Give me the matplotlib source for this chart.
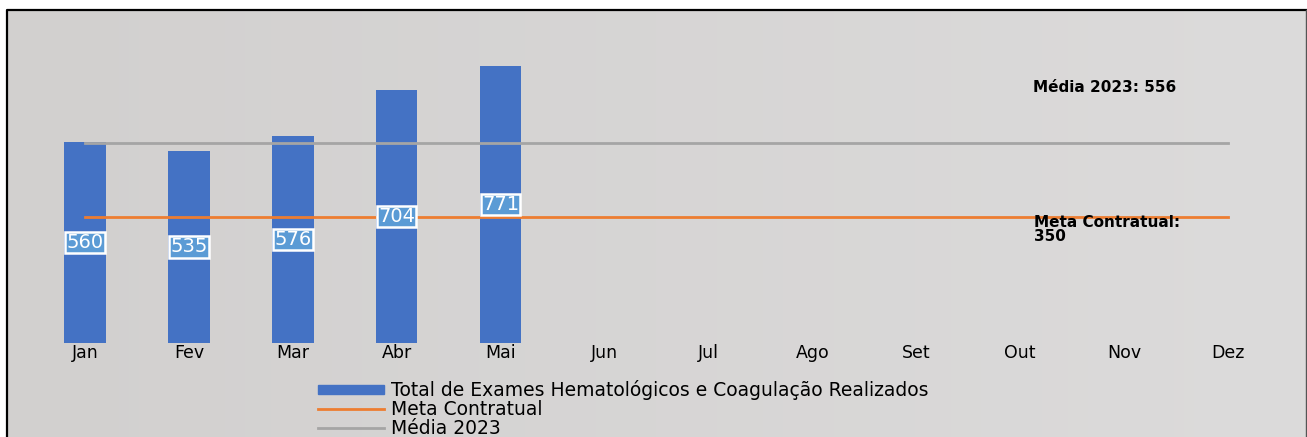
import matplotlib.pyplot as plt
import matplotlib.patches as mpatches
from matplotlib.lines import Line2D
import numpy as np

plt.rcParams['font.family'] = ['DejaVu Sans']

meses = ["Jan", "Fev", "Mar", "Abr", "Mai", "Jun", "Jul", "Ago", "Set", "Out", "Nov", "Dez"]
exames = [560, 535, 576, 704, 771]
meta = 350
media = 556

fig = plt.figure(figsize=(13.07, 4.37), dpi=100)

# fundo cinza com leve gradiente + moldura
bg = fig.add_axes([0, 0, 1, 1], zorder=-10)
grad = np.linspace(0, 1, 256).reshape(1, -1)
bg.imshow(grad, aspect='auto', cmap=plt.matplotlib.colors.LinearSegmentedColormap.from_list('g', ['#d2d0cf', '#dcdbdb']),
          extent=[7 / 1307, 1305.5 / 1307, 0, 1 - 10 / 437], transform=bg.transAxes)
bg.set_xlim(0, 1)
bg.set_ylim(0, 1)
bg.plot([7 / 1307, 7 / 1307, 1305.5 / 1307], [0, 1 - 10 / 437, 1 - 10 / 437], color='black', lw=1.6)
bg.plot([1305.5 / 1307, 1305.5 / 1307], [0, 1 - 10 / 437], color='#555555', lw=1)
bg.axis('off')

ax = fig.add_axes([33 / 1307, (437 - 343) / 437, 1247 / 1307, 323 / 437])
ax.patch.set_alpha(0)
x = np.arange(len(meses))
bars = ax.bar(x[:len(exames)], exames, width=0.4, color='#4472c4', zorder=2)
ax.plot([x[0], x[-1]], [meta, meta], color='#ed7d31', lw=2, zorder=3)
ax.plot([x[0], x[-1]], [media, media], color='#a5a5a5', lw=2, zorder=3)

for xi, v in zip(x, exames):
    ax.text(xi, v / 2, str(v), ha='center', va='center', color='white', fontsize=14, zorder=4,
            bbox=dict(boxstyle='square,pad=0.06', fc='#5b9bd5', ec='white', lw=1.8))

ax.text(9.12, 712, "Média 2023: 556", fontsize=11, fontweight='bold', ha='left', va='center')
ax.text(9.13, 316, "Meta Contratual:\n350", fontsize=11, fontweight='bold', ha='left', va='center',
        linespacing=0.85)

ax.set_xlim(-0.5, 11.5)
ax.set_ylim(0, 900)
ax.set_xticks(x)
ax.set_xticklabels(meses, fontsize=12.5)
ax.tick_params(axis='x', length=0, pad=1)
ax.set_yticks([])
for s in ax.spines.values():
    s.set_visible(False)

handles = [mpatches.Patch(color='#4472c4'),
           Line2D([], [], color='#ed7d31', lw=2),
           Line2D([], [], color='#a5a5a5', lw=2)]
labels = ["Total de Exames Hematológicos e Coagulação Realizados", "Meta Contratual", "Média 2023"]
fig.legend(handles, labels, loc='upper left', bbox_to_anchor=(318 / 1307, 1 - 380 / 437), frameon=False,
           fontsize=13.5, handlelength=3.5, handleheight=0.4, handletextpad=0.4, labelspacing=0.0,
           borderaxespad=0, borderpad=0)

fig.savefig('out.png', dpi=100)
